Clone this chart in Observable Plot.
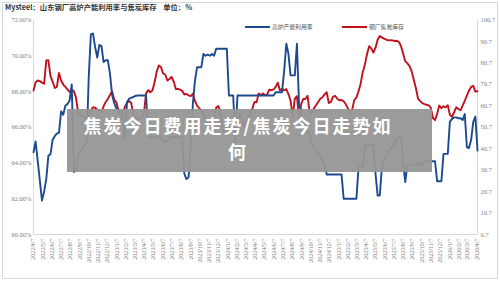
<!DOCTYPE html>
<html><head><meta charset="utf-8">
<script src="https://cdn.jsdelivr.net/npm/d3@7"></script>
<script src="https://cdn.jsdelivr.net/npm/@observablehq/plot@0.6"></script>
<style>
body{margin:0;background:#fff;}
#wrap{position:relative;width:500px;height:281px;overflow:hidden;font-family:"Noto Sans CJK SC","Noto Sans",sans-serif;}
#chart{position:absolute;left:0;top:0;}
#frame{position:absolute;left:2px;top:2px;width:496px;height:277px;border:1px solid #d9d9d9;box-sizing:border-box;pointer-events:none;}
#title{position:absolute;left:5px;top:1px;font-size:7.3px;font-weight:bold;color:#333;white-space:pre;line-height:12px;}
.lg{position:absolute;top:23px;font-size:5.8px;color:#555;line-height:8px;white-space:nowrap;}
.sw{display:inline-block;width:25px;height:2px;vertical-align:middle;margin-right:2px;}
#wm{position:absolute;left:67px;top:109px;width:365px;height:63px;background:rgba(150,150,150,0.95);}
.wmt{position:absolute;left:67px;width:342px;text-align:center;color:#fff;font-weight:bold;font-size:18px;letter-spacing:2px;line-height:26px;height:26px;}
</style>
</head><body>
<div id="wrap">
  <div id="chart"></div>
  <div id="title"></div>
  <div class="lg" id="lg1" style="left:245px"></div>
  <div class="lg" id="lg2" style="left:342px"></div>
  <div id="wm"></div>
  <div class="wmt" id="wmt1" style="top:112px"></div>
  <div class="wmt" id="wmt2" style="top:138px"></div>
  <div id="frame"></div>
</div>
<script>
// ---- text ----
const titleText = "Mysteel：山东钢厂高炉产能利用率与焦炭库存    单位：%";
const seriesNames = ["高炉产能利用率", "钢厂焦炭库存"];
const seriesColors = ["#1c4a8e", "#c0121e"];
const overlayLines = ["焦炭今日费用走势/焦炭今日走势如", "何"];

// ---- axes ----
const leftTicks = [60, 62, 64, 66, 68, 70, 72];
const rightTicks = [0.7, 10.7, 20.7, 30.7, 40.7, 50.7, 60.7, 70.7, 80.7, 90.7, 100.7];
const xTickLabels = [
  "2022/4/7","2022/5/7","2022/6/7","2022/7/7","2022/8/7","2022/9/7","2022/10/7","2022/11/7","2022/12/7",
  "2023/1/7","2023/2/7","2023/3/7","2023/4/7","2023/5/7","2023/6/7","2023/7/7","2023/8/7","2023/9/7","2023/10/7","2023/11/7","2023/12/7",
  "2024/1/7","2024/2/7","2024/3/7","2024/4/7","2024/5/7","2024/6/7","2024/7/7","2024/8/7","2024/9/7","2024/10/7","2024/11/7","2024/12/7",
  "2025/1/7","2025/2/7","2025/3/7","2025/4/7","2025/5/7","2025/6/7","2025/7/7","2025/8/7","2025/9/7","2025/10/7","2025/11/7","2025/12/7",
  "2026/1/7","2026/2/7","2026/3/7","2026/4/7"
];
const firstWeek = "2022/4/7"; // weekly observations start

// ---- series: weekly values ----
// 高炉产能利用率 (%), left axis
const blueValues = [
  64.6,65.2,64.1,63.0,61.9,62.4,63.1,64.4,64.5,65.3,
  65.5,65.65,65.7,66.9,66.7,67.2,67.3,67.5,68.4,63.5,
  63.6,64.3,64.7,64.8,65.0,65.1,68.8,71.2,71.25,70.5,
  69.9,70.6,70.55,69.65,69.75,69.75,69.0,67.8,67.35,67.05,
  67.0,66.75,66.4,65.35,67.4,67.6,67.65,67.7,67.75,67.78,
  67.78,67.78,67.78,67.78,65.44,65.44,65.44,65.44,65.44,65.44,
  65.44,65.22,65.22,65.22,65.44,65.44,65.44,65.44,65.44,65.44,
  65.44,63.4,63.1,63.2,65.0,67.3,68.6,69.36,69.36,69.36,
  70.1,70.0,70.07,70.0,70.1,70.0,70.39,70.39,70.39,70.39,
  70.39,70.39,67.78,67.78,67.78,65.16,67.78,67.78,67.78,67.78,
  67.78,67.78,67.78,67.78,67.78,67.78,67.78,67.78,67.78,67.78,
  67.78,67.78,67.78,67.78,67.96,67.96,67.96,67.96,69.17,70.67,
  70.11,68.9,68.9,68.9,70.67,67.22,67.0,66.4,66.1,65.8,
  65.6,65.1,64.85,64.7,64.5,64.4,64.14,63.96,63.36,63.36,
  63.36,63.36,63.36,63.36,63.36,63.36,62.0,62.0,62.0,62.0,
  62.0,62.0,62.0,63.77,63.77,63.77,65.03,65.03,65.03,65.03,
  65.03,63.4,62.18,62.18,63.77,64.14,64.4,64.6,64.79,64.95,
  65.1,65.35,65.45,65.54,64.0,62.93,63.92,63.92,63.92,63.92,
  63.92,63.92,63.92,63.92,64.1,64.1,64.1,64.1,64.1,64.1,
  62.98,62.98,62.98,64.51,64.51,64.51,66.3,66.47,66.55,66.55,
  66.5,66.5,66.4,66.74,64.88,64.84,65.3,66.3,66.6,64.7
];
// 钢厂焦炭库存, right axis
const redValues = [
  67.8,71.7,72.5,72.2,71.5,71.0,81.8,82.0,74.5,72.0,
  69.0,69.5,76.0,72.5,70.6,69.5,68.3,67.2,68.2,67.6,
  64.5,57.5,56.2,56.2,55.0,54.5,55.8,58.5,60.0,59.8,
  59.0,58.3,58.0,60.5,62.5,63.9,65.8,67.5,63.5,62.4,
  58.5,56.5,56.8,60.3,62.0,63.0,62.0,56.5,55.5,54.5,
  55.0,55.2,57.5,66.5,68.0,67.0,67.9,71.7,76.7,79.5,
  78.8,75.8,75.3,72.5,73.2,74.2,72.0,68.5,68.6,68.2,
  67.7,66.0,66.2,65.6,65.2,66.3,63.0,60.8,59.6,58.5,
  56.8,53.9,50.9,48.4,47.8,55.0,59.8,60.6,58.0,51.0,
  47.5,47.5,49.5,52.8,55.6,53.5,49.5,57.5,55.0,51.5,
  52.5,55.2,57.5,59.3,62.5,62.3,66.5,65.6,66.4,65.6,
  66.0,68.2,68.0,68.3,69.5,71.5,67.8,68.6,67.9,68.5,
  66.2,63.2,55.5,64.0,65.2,54.5,61.5,63.9,63.9,65.4,
  57.5,57.5,59.5,61.0,62.5,64.0,64.7,66.0,67.0,62.0,
  62.5,65.0,65.3,64.0,63.3,63.4,62.8,61.4,59.5,57.0,
  58.8,63.5,64.5,67.5,71.0,76.5,80.0,84.8,88.5,87.5,
  85.5,87.8,91.5,93.2,92.6,92.0,91.6,91.2,91.3,91.2,
  90.9,91.0,90.5,88.5,85.0,81.5,80.5,79.2,76.8,72.8,
  69.0,64.0,62.9,62.0,61.5,61.2,60.9,59.8,55.0,54.0,
  57.0,60.8,59.6,60.5,60.0,61.0,56.5,55.5,57.7,60.0,
  59.2,58.6,60.8,63.0,65.5,67.8,69.5,70.0,67.3,67.5
];

// ---- build ----
const parseD = s => { const [y, m, d] = s.split("/").map(Number); return new Date(y, m - 1, d); };
const fmtD = d => `${d.getFullYear()}/${d.getMonth() + 1}/${d.getDate()}`;
const start = parseD(firstWeek);
const weekDate = i => d3.timeDay.offset(start, 7 * i);
const blueData = blueValues.map((v, i) => ({date: weekDate(i), v}));
const redData = redValues.map((v, i) => ({date: weekDate(i), v}));
const xTicks = xTickLabels.map(parseD);
const xStart = start, xEnd = weekDate(blueValues.length - 1);

// right axis (0.7..100.7) mapped onto left axis (60..72)
const rMin = rightTicks[0], rMax = rightTicks[rightTicks.length - 1];
const lMin = leftTicks[0], lMax = leftTicks[leftTicks.length - 1];
const toLeft = r => lMin + (r - rMin) / (rMax - rMin) * (lMax - lMin);
const fromLeft = l => rMin + (l - lMin) / (lMax - lMin) * (rMax - rMin);

const axisColor = "#d9d9d9";
const plot = Plot.plot({
  width: 500, height: 281,
  marginLeft: 33, marginRight: 23, marginTop: 19.5, marginBottom: 47,
  x: {type: "time", domain: [xStart, xEnd]},
  y: {domain: [lMin, lMax]},
  style: {fontFamily: "'Liberation Serif', serif", fontSize: "6.5px", color: "#7f7f7f", background: "transparent", overflow: "visible"},
  marks: [
    Plot.ruleX([xStart], {stroke: axisColor}),
    Plot.ruleX([xEnd], {stroke: axisColor}),
    Plot.ruleY([lMin], {stroke: axisColor}),
    Plot.axisY({ticks: leftTicks, tickFormat: d => d.toFixed(2) + "%", tickSize: 0, tickPadding: 2, label: null}),
    Plot.axisY({anchor: "right", ticks: rightTicks.map(toLeft), tickFormat: d => fromLeft(d).toFixed(1), tickSize: 0, tickPadding: 3, label: null}),
    Plot.axisX({ticks: xTicks, tickFormat: fmtD, tickRotate: -90, tickSize: 0, tickPadding: 4, fontSize: 6, label: null}),
    Plot.line(redData, {x: "date", y: d => toLeft(d.v), stroke: seriesColors[1], strokeWidth: 1.9}),
    Plot.line(blueData, {x: "date", y: "v", stroke: seriesColors[0], strokeWidth: 1.9})
  ]
});
document.getElementById("chart").appendChild(plot);

document.getElementById("title").textContent = titleText;
[["lg1", 0], ["lg2", 1]].forEach(([id, i]) => {
  const el = document.getElementById(id);
  const sw = document.createElement("span");
  sw.className = "sw"; sw.style.background = seriesColors[i];
  el.appendChild(sw);
  el.appendChild(document.createTextNode(seriesNames[i]));
});
document.getElementById("wmt1").textContent = overlayLines[0];
document.getElementById("wmt2").textContent = overlayLines[1];
</script>
</body></html>
